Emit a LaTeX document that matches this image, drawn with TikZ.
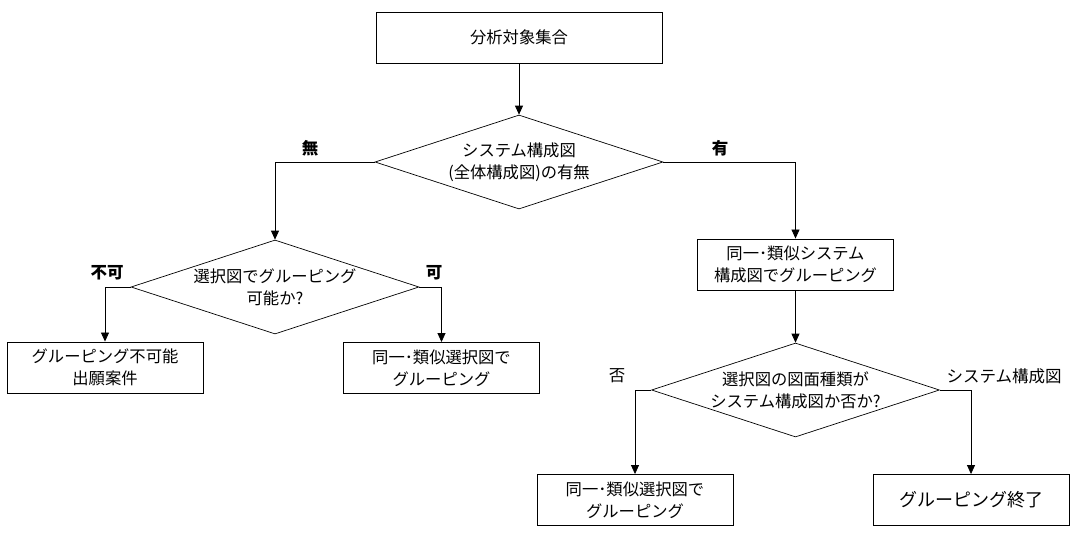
\documentclass[tikz,border=0pt]{standalone}
\usepackage{fontspec}
\setmainfont{Noto Sans CJK JP}
\usetikzlibrary{shapes.geometric,arrows.meta}

\tikzset{
  box/.style={draw, line width=0.9pt, minimum width=196pt, minimum height=51pt, align=center, inner sep=0pt},
  decision/.style={draw, diamond, line width=0.7pt, minimum width=288pt, minimum height=94pt, aspect=3, inner sep=0pt, align=center},
  lbl/.style={inner sep=0pt, font=\fontsize{16.5}{20}\selectfont},
}

\begin{document}
\begin{tikzpicture}[x=1pt, y=1pt, >={Triangle[length=9pt,width=8pt]}, line width=0.8pt,
  font=\fontsize{16.3}{22}\selectfont]
  \useasboundingbox (0,0) rectangle (1076,-535);
  % Nodes
  \node[box, minimum width=286pt] (start) at (519,-37.5) {分析対象集合};
  \node[decision] (sys) at (519,-162) {システム構成図\\(全体構成図)の有無};
  \node[decision] (selA) at (275,-287) {選択図でグルーピング\\可能か?};
  \node[box] (nogroup) at (105,-367.5) {グルーピング不可能\\出願案件};
  \node[box] (simsel) at (441.5,-368) {同一･類似選択図で\\グルーピング};
  \node[box] (simsys) at (795.5,-264.5) {同一･類似システム\\構成図でグルーピング};
  \node[decision] (kind) at (795.5,-390) {選択図の図面種類が\\システム構成図か否か?};
  \node[box] (simsel2) at (635,-500) {同一･類似選択図で\\グルーピング};
  \node[box] (done) at (971,-500) {\fontsize{18}{22}\selectfont グルーピング終了};
  % Labels
  \node[lbl, font=\fontsize{16.5}{20}\bfseries] (lno) at (310,-148) {無};
  \node[lbl, font=\fontsize{16.5}{20}\bfseries] (lyes) at (720,-148) {有};
  \node[lbl, font=\fontsize{16.5}{20}\bfseries] (lng) at (107,-273) {不可};
  \node[lbl, font=\fontsize{16.5}{20}\bfseries] (lok) at (434,-273) {可};
  \node[lbl] (lnot) at (617,-376) {否};
  \node[lbl] (lsys) at (1004,-376) {システム構成図};
  % Edges
  \draw[->] (start) -- (sys);
  \draw[->] (sys.west) -| (selA.north);
  \draw[->] (sys.east) -| (simsys.north);
  \draw[->] (selA.west) -| (nogroup.north);
  \draw[->] (selA.east) -| (simsel.north);
  \draw[->] (simsys) -- (kind);
  \draw[->] (kind.west) -| (simsel2.north);
  \draw[->] (kind.east) -| (done.north);
\end{tikzpicture}
\end{document}
